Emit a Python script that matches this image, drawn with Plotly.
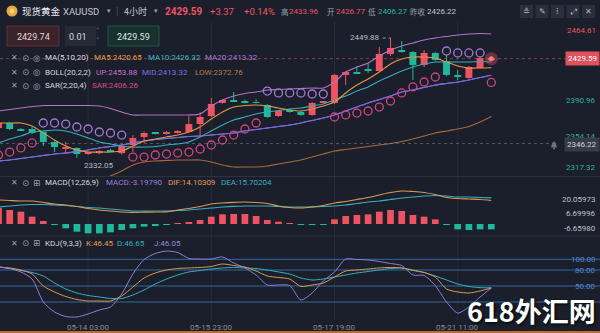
import plotly.graph_objects as go

W, H = 600, 333
BG = "#1b1f2b"

# ---------------- data (4h candles, index 0..44) ----------------
opens = [2361.5, 2366.4, 2360.5, 2360.5, 2357.6, 2347.8, 2341.2, 2341.9, 2336.0, 2336.8,
         2339.2, 2336.8, 2344.8, 2352.7, 2356.8, 2355.6, 2356.6, 2357.6, 2365.4, 2373.3,
         2386.1, 2389.0, 2387.5, 2387.0, 2384.1, 2373.3, 2379.2, 2377.2, 2374.3, 2386.1,
         2386.1, 2413.6, 2416.5, 2418.8, 2417.5, 2434.2, 2438.1, 2436.1, 2423.4, 2435.2,
         2427.3, 2413.6, 2410.6, 2420.4, 2429.0]
highs = [2368.0, 2367.5, 2361.5, 2363.5, 2358.5, 2348.5, 2347.8, 2342.5, 2338.0, 2339.8,
         2341.0, 2344.5, 2354.6, 2358.0, 2357.6, 2358.5, 2359.6, 2373.3, 2377.2, 2391.0,
         2390.0, 2396.9, 2389.5, 2390.0, 2385.0, 2379.0, 2380.5, 2378.5, 2387.0, 2388.0,
         2414.5, 2417.5, 2422.4, 2425.3, 2441.0, 2449.88, 2446.9, 2437.0, 2438.1, 2436.0,
         2433.2, 2418.5, 2422.4, 2431.0, 2430.5]
lows = [2360.5, 2359.5, 2358.5, 2355.6, 2343.8, 2337.9, 2336.8, 2332.05, 2335.0, 2335.8,
        2337.5, 2335.5, 2337.9, 2346.8, 2355.0, 2355.0, 2356.0, 2356.6, 2352.7, 2372.0,
        2385.5, 2387.5, 2385.5, 2385.6, 2371.5, 2372.5, 2376.5, 2373.5, 2373.5, 2385.8,
        2385.2, 2403.7, 2414.8, 2415.5, 2416.5, 2432.2, 2435.5, 2408.6, 2421.4, 2427.0,
        2412.5, 2408.6, 2409.8, 2419.5, 2428.5]
closes = [2366.4, 2360.5, 2359.5, 2356.6, 2347.8, 2342.8, 2342.0, 2335.9, 2337.0, 2338.9,
          2338.2, 2343.8, 2351.7, 2356.6, 2356.0, 2357.6, 2357.6, 2365.4, 2372.3, 2385.1,
          2389.0, 2388.0, 2386.6, 2386.1, 2372.3, 2378.2, 2377.2, 2374.3, 2386.1, 2387.2,
          2413.6, 2416.5, 2415.5, 2417.8, 2434.2, 2440.1, 2436.1, 2423.4, 2435.2, 2428.3,
          2413.6, 2411.6, 2421.4, 2430.2, 2429.59]

ma5 = [2366.4, 2366.4, 2366.4, 2363.5, 2356.6, 2349.7, 2343.8, 2339.9, 2337.9, 2337.9,
       2337.9, 2338.9, 2343.8, 2348.7, 2350.7, 2352.7, 2354.6, 2357.6, 2362.5, 2370.3,
       2377.2, 2382.1, 2383.6, 2384.1, 2383.1, 2381.1, 2379.2, 2378.2, 2380.2, 2383.1,
       2387.0, 2395.9, 2403.7, 2409.6, 2416.5, 2424.4, 2429.3, 2431.2, 2431.2, 2430.2,
       2426.3, 2422.4, 2420.4, 2420.4, 2420.65]
ma10 = [2346.8, 2350.7, 2353.6, 2357.6, 2358.6, 2359.6, 2358.6, 2355.6, 2351.7, 2347.8,
        2345.8, 2343.8, 2342.8, 2342.8, 2343.3, 2344.8, 2345.8, 2347.8, 2352.7, 2358.6,
        2364.5, 2369.4, 2372.3, 2375.3, 2377.2, 2378.7, 2380.2, 2381.1, 2383.1, 2385.1,
        2389.0, 2392.9, 2397.8, 2401.8, 2407.7, 2412.6, 2417.5, 2421.4, 2424.4, 2426.3,
        2426.3, 2426.3, 2426.3, 2426.8, 2426.32]
boll_mid = [2329.1, 2330.1, 2331.5, 2333.0, 2334.5, 2336.0, 2336.9, 2338.4, 2339.9, 2341.9,
            2343.3, 2344.8, 2346.8, 2348.7, 2350.2, 2351.2, 2352.2, 2353.2, 2353.6, 2354.6,
            2355.6, 2356.6, 2358.6, 2360.0, 2361.5, 2363.0, 2364.5, 2366.4, 2368.9, 2371.3,
            2374.3, 2378.2, 2382.1, 2386.1, 2389.5, 2392.9, 2396.9, 2398.8, 2401.3, 2403.7,
            2405.2, 2406.7, 2408.6, 2411.1, 2413.32]
ma20 = boll_mid
boll_up = [2378.2, 2379.7, 2381.1, 2382.6, 2383.6, 2383.6, 2383.6, 2383.6, 2383.6, 2383.1,
           2380.7, 2377.2, 2374.3, 2374.3, 2374.3, 2374.3, 2374.3, 2374.3, 2375.3, 2383.1,
           2389.0, 2392.9, 2395.4, 2396.9, 2398.8, 2399.3, 2399.8, 2400.3, 2400.8, 2400.8,
           2406.7, 2416.5, 2421.4, 2425.3, 2432.2, 2438.1, 2442.0, 2445.0, 2447.9, 2449.9,
           2451.4, 2452.8, 2453.8, 2454.3, 2453.88]
boll_low = [None, None, None, None, None, None, None, None, None, 2309.5,
            2314.4, 2319.3, 2325.2, 2328.1, 2329.1, 2329.6, 2330.1, 2330.1, 2330.1, 2328.1,
            2325.2, 2323.2, 2323.2, 2323.2, 2324.2, 2326.2, 2328.1, 2330.1, 2333.0, 2335.9,
            2338.9, 2340.4, 2341.9, 2343.3, 2344.8, 2346.3, 2348.2, 2350.7, 2353.6, 2356.6,
            2358.6, 2360.5, 2363.0, 2367.4, 2372.76]
sar = [2335.0, 2337.9, 2341.9, 2346.8, 2366.4, 2366.4, 2365.4, 2362.5, 2360.5, 2357.6,
       2356.6, 2354.6, 2333.0, 2333.0, 2335.0, 2335.9, 2336.9, 2337.9, 2340.9, 2344.8,
       2349.7, 2354.6, 2360.5, 2366.4, 2397.8, 2395.9, 2395.9, 2395.9, 2394.9, 2394.9,
       2372.3, 2374.3, 2376.2, 2378.2, 2382.1, 2388.0, 2395.9, 2401.8, 2406.7, 2411.6,
       2437.1, 2435.2, 2435.2, 2435.2, 2406.26]

macd_hist = [9.6, 8.4, 7.4, 4.4, 1.8, -0.3, -2.6, -4.6, -5.6, -5.6,
             -5.0, -3.6, -2.6, -1.6, -1.0, -0.6, 0.3, 0.8, 2.4, 4.4,
             5.8, 6.0, 6.0, 4.8, 2.4, 1.4, 0.4, -0.3, -0.3, -0.2,
             2.8, 4.8, 5.4, 5.8, 7.4, 8.4, 7.8, 5.4, 4.4, 2.8,
             -0.3, -3.2, -3.6, -3.2, -3.1979]
dif = [14.4, 14.1, 13.8, 13.8, 12.9, 12.0, 11.4, 10.5, 9.3, 8.4,
       7.8, 7.2, 7.0, 7.1, 7.2, 7.3, 8.4, 9.3, 10.5, 12.0,
       12.6, 13.0, 13.2, 12.9, 12.3, 10.8, 9.9, 9.6, 10.2, 11.1,
       12.6, 13.5, 14.7, 15.9, 17.4, 18.9, 19.8, 19.5, 18.9, 17.7,
       15.9, 15.3, 15.0, 14.7, 14.10309]
dea = [10.2, 10.8, 11.4, 11.7, 11.7, 11.4, 11.1, 10.5, 9.9, 9.6,
       9.0, 8.4, 7.8, 7.8, 7.8, 7.8, 8.1, 8.4, 9.0, 9.6,
       10.2, 10.6, 10.8, 10.8, 10.8, 10.5, 10.2, 10.2, 10.3, 10.5,
       10.8, 11.4, 12.3, 13.2, 13.8, 14.7, 15.6, 16.2, 16.8, 17.1,
       16.8, 16.2, 16.2, 15.9, 15.70204]

k_vals = [85.6, 83.8, 80.0, 72.5, 50.0, 38.8, 30.3, 24.7, 21.9, 21.9,
          21.9, 31.3, 48.1, 65.0, 74.4, 80.0, 82.8, 83.8, 84.7, 86.6,
          91.3, 88.4, 85.6, 78.1, 68.8, 65.9, 63.1, 49.1, 51.9, 55.6,
          66.9, 78.1, 80.0, 81.9, 83.8, 84.7, 83.8, 79.1, 75.3, 66.9,
          44.4, 38.8, 36.9, 40.6, 46.45]
d_vals = [85.6, 82.8, 79.1, 75.3, 68.8, 55.6, 44.4, 36.9, 32.2, 29.4,
          26.6, 26.6, 33.1, 42.5, 53.8, 63.1, 70.6, 76.3, 79.1, 81.9,
          83.8, 84.7, 83.8, 82.8, 80.0, 76.3, 72.5, 65.0, 61.3, 63.1,
          66.9, 70.6, 74.4, 77.2, 80.0, 82.8, 83.8, 80.0, 75.3, 68.8,
          61.3, 53.8, 49.1, 46.9, 46.65]
j_vals = [85.6, 82.8, 76.3, 63.1, 20.0, 1.3, -7.2, -8.1, -2.5, 5.0,
          10.6, 35.0, 72.5, 99.7, 110.9, 115.6, 112.8, 101.6, 100.6, 100.6,
          104.4, 93.1, 83.8, 70.6, 51.9, 51.9, 50.9, 23.8, 36.9, 59.4,
          76.3, 100.6, 99.7, 98.8, 95.9, 92.2, 88.4, 70.6, 69.7, 50.8,
          20.0, -0.6, 10.6, 29.4, 46.05]

x_tick_pos = [8, 19, 30, 41]
x_tick_text = ["05-14 03:00", "05-15 23:00", "05-17 19:00", "05-21 11:00"]
price_tick_vals = [2464.61, 2390.96, 2354.14, 2317.32]
macd_tick_vals = [20.05973, 6.69996, -6.65980]
kdj_levels = [100, 80, 50, 20]
kdj_tick_text = ["100.00", "80.00", "50.00", "20.00"]

last_price = 2429.59
alert_price = 2346.22

# ---------------- styling ----------------
UPC = "#ef5361"
DNC = "#1fb89a"
FONT = "Roboto, Noto Sans CJK SC, sans-serif"
CJK = "Noto Sans CJK SC, Roboto, sans-serif"

n = len(closes)
idx = list(range(n))


def px(x):
    return x / W


def py(y):
    return 1 - y / H


fig = go.Figure()


def line(y, color, axis="y", width=1.1):
    fig.add_trace(go.Scatter(x=idx, y=y, mode="lines", yaxis=axis, hoverinfo="skip",
                             line=dict(color=color, width=width, shape="spline", smoothing=0.7),
                             showlegend=False))


line(boll_low, "#a8683a")
line(boll_up, "#b672c8")
line(ma20, "#a070d0")
line(boll_mid, "#6c6ce0")
line(ma10, "#34aebf")
line(ma5, "#e09a48")

# ---- candles: wicks + bodies
up_flags = [c >= o for o, c in zip(opens, closes)]
for flag, col in [(True, UPC), (False, DNC)]:
    wx, wy = [], []
    for i in idx:
        if up_flags[i] == flag:
            wx += [i, i, None]
            wy += [lows[i], highs[i], None]
    fig.add_trace(go.Scatter(x=wx, y=wy, mode="lines", yaxis="y", hoverinfo="skip",
                             line=dict(color=col, width=1), showlegend=False))
fig.add_trace(go.Bar(x=idx, y=[abs(c - o) for o, c in zip(opens, closes)],
                     base=[min(o, c) for o, c in zip(opens, closes)], width=0.62, yaxis="y",
                     marker=dict(color=[UPC if f else DNC for f in up_flags], line=dict(width=0)),
                     showlegend=False, hoverinfo="skip"))

# ---- SAR
sar_cols = ["#a27ad8" if s > c else "#d2457f" for s, c in zip(sar, closes)]
fig.add_trace(go.Scatter(x=idx, y=sar, mode="markers", yaxis="y", hoverinfo="skip",
                         marker=dict(symbol="circle-open", size=8, color=sar_cols,
                                     line=dict(width=1.3, color=sar_cols)),
                         showlegend=False))

# ---- last price glow
fig.add_trace(go.Scatter(x=[idx[-1]], y=[last_price], mode="markers", yaxis="y", hoverinfo="skip",
                         marker=dict(size=13, color="rgba(240,90,100,0.35)"), showlegend=False))
fig.add_trace(go.Scatter(x=[idx[-1]], y=[last_price], mode="markers", yaxis="y", hoverinfo="skip",
                         marker=dict(size=5, color="#ff7a84"), showlegend=False))

# ---- MACD panel
fig.add_trace(go.Bar(x=idx, y=macd_hist, width=0.6, yaxis="y2", hoverinfo="skip",
                     marker=dict(color=[UPC if v >= 0 else DNC for v in macd_hist], line=dict(width=0)),
                     showlegend=False))
line(dea, "#38aebe", axis="y2")
line(dif, "#d99a55", axis="y2")

# ---- KDJ panel
line(d_vals, "#35b0bf", axis="y3", width=1)
line(k_vals, "#d9994f", axis="y3", width=1)
line(j_vals, "#8e7fd6", axis="y3", width=1)

# ---------------- axes ----------------
xr = [(0 + 1.5) / 11.2, (W + 1.5) / 11.2]
main_bot, main_top = 176, 22
macd_bot, macd_top = 235, 177
kdj_bot, kdj_top = 320, 237


def p_at(y):
    return 2487.2 - 0.982 * y


def p_px(v):
    return (2487.2 - v) / 0.982


def m_at(y):
    return (224 - y) * 0.6


def m_px(v):
    return 224 - v / 0.6


def k_at(y):
    return 80 - (y - 270) * 1.875


hidden = dict(visible=False, showgrid=False, zeroline=False, fixedrange=True)
fig.update_layout(
    width=W, height=H, margin=dict(l=0, r=0, t=0, b=0),
    paper_bgcolor=BG, plot_bgcolor=BG, barmode="overlay", showlegend=False,
    xaxis=dict(range=xr, domain=[0, 1], anchor="y3", **hidden),
    yaxis=dict(domain=[py(main_bot), py(main_top)], range=[p_at(main_bot), p_at(main_top)], **hidden),
    yaxis2=dict(domain=[py(macd_bot), py(macd_top)], range=[m_at(macd_bot), m_at(macd_top)], **hidden),
    yaxis3=dict(domain=[py(kdj_bot), py(kdj_top)], range=[k_at(kdj_bot), k_at(kdj_top)], **hidden),
)

shapes = []
anns = []

for xp in x_tick_pos:
    shapes.append(dict(type="line", xref="x", yref="paper", x0=xp, x1=xp, y0=py(320), y1=py(22),
                       line=dict(color="#262b37", width=1), layer="below"))
for ys in [176.5, 236]:
    shapes.append(dict(type="line", xref="paper", yref="paper", x0=0, x1=1, y0=py(ys), y1=py(ys),
                       line=dict(color="#2c313d", width=1)))
for lv in kdj_levels:
    shapes.append(dict(type="line", xref="paper", yref="y3", x0=0, x1=1, y0=lv, y1=lv,
                       line=dict(color="#34679f", width=1), layer="below"))
shapes.append(dict(type="line", xref="paper", yref="y", x0=0, x1=px(568), y0=last_price, y1=last_price,
                   line=dict(color="rgba(225,85,95,0.55)", width=1, dash="dot")))
shapes.append(dict(type="line", xref="paper", yref="y", x0=0, x1=px(549), y0=alert_price, y1=alert_price,
                   line=dict(color="rgba(150,155,165,0.45)", width=1, dash="dot")))
shapes.append(dict(type="line", xref="x", yref="y", x0=34.3, x1=35, y0=highs[35], y1=highs[35],
                   line=dict(color="#9aa0aa", width=1, dash="dot")))
shapes.append(dict(type="rect", xref="paper", yref="paper", x0=0, x1=1, y0=0, y1=py(331),
                   fillcolor="#b86e30", line=dict(width=0)))

# small bell icon next to the alert price box
by = p_px(alert_price) + 1
bell = (f"M {px(551)} {py(by + 3)} L {px(552)} {py(by - 1)} Q {px(554)} {py(by - 5)} {px(556)} {py(by - 1)} "
        f"L {px(557)} {py(by + 3)} Z")
shapes.append(dict(type="path", xref="paper", yref="paper", path=bell,
                   fillcolor="#6c717c", line=dict(width=0)))
shapes.append(dict(type="circle", xref="paper", yref="paper", x0=px(553), x1=px(555), y0=py(by + 5), y1=py(by + 3),
                   fillcolor="#6c717c", line=dict(width=0)))


def txt(x, y, s, color, size=8, anchor="left", font=FONT, **kw):
    anns.append(dict(x=px(x), y=py(y), xref="paper", yref="paper", text=s, showarrow=False,
                     xanchor=anchor, yanchor="middle", font=dict(color=color, size=size, family=font), **kw))


# ---- header
shapes.append(dict(type="circle", xref="paper", yref="paper", x0=px(6.5), x1=px(17.5), y0=py(16.5), y1=py(5.5),
                   fillcolor="#e6a93c", line=dict(width=0)))
shapes.append(dict(type="circle", xref="paper", yref="paper", x0=px(9.5), x1=px(14.5), y0=py(13.5), y1=py(8.5),
                   fillcolor="#f6d27a", line=dict(width=0)))
txt(20, 11, "现货黄金", "#eceef2", 9.5, font=CJK)
txt(61, 11, "XAUUSD", "#c2c6ce", 9.5)
txt(105, 11, "▾", "#9ca1ab", 7, font="DejaVu Sans")
txt(114, 11, "|", "#4a4f5b", 10)
txt(122, 11, "4小时", "#c2c6ce", 9, font=CJK)
txt(152, 11, "▾", "#9ca1ab", 7, font="DejaVu Sans")
txt(163, 11, "<b>2429.59</b>", UPC, 10)
txt(208, 11, "+3.37", UPC, 9.5)
txt(242, 11, "+0.14%", UPC, 9.5)
txt(279, 11, "高", "#9ca1ab", 7.5, font=CJK)
txt(287, 11, "2433.96", UPC, 8)
txt(325, 11, "开", "#9ca1ab", 7.5, font=CJK)
txt(334, 11, "2426.77", UPC, 8)
txt(366, 11, "低", "#9ca1ab", 7.5, font=CJK)
txt(376, 11, "2406.27", DNC, 8)
txt(408, 11, "昨收", "#9ca1ab", 7.5, font=CJK)
txt(425, 11, "2426.22", "#c2c6ce", 8)
icons = ["≙", "✎", "⁞", "⤢", "✕"]
for k, ic in enumerate(icons):
    x0 = 520 + k * 15.5
    shapes.append(dict(type="rect", xref="paper", yref="paper", x0=px(x0), x1=px(x0 + 13), y0=py(18), y1=py(5),
                       fillcolor="#2a2f3b", line=dict(width=0)))
    txt(x0 + 6.5, 11.5, ic, "#b4b8c0", 8, anchor="center", font="DejaVu Sans")

# ---- price boxes
shapes.append(dict(type="rect", xref="paper", yref="paper", x0=px(7), x1=px(59), y0=py(46), y1=py(26),
                   fillcolor="#3a232b", line=dict(color="#5e2f3b", width=1)))
txt(33, 36.5, "2429.74", "#e6d6da", 9, anchor="center")
shapes.append(dict(type="rect", xref="paper", yref="paper", x0=px(65), x1=px(96), y0=py(46), y1=py(26),
                   fillcolor="#262a35", line=dict(width=0)))
txt(78, 36.5, "0.01", "#d8dbe0", 9, anchor="center")
txt(98, 31, "˄", "#8c919b", 7, anchor="center", font="DejaVu Sans")
txt(98, 41, "˅", "#8c919b", 7, anchor="center", font="DejaVu Sans")
shapes.append(dict(type="rect", xref="paper", yref="paper", x0=px(108), x1=px(159), y0=py(46), y1=py(26),
                   fillcolor="#17312f", line=dict(color="#245249", width=1)))
txt(133.5, 36.5, "2429.59", "#dfe8e6", 9, anchor="center")

# ---- legend rows
ICON = "#9ca1ab"


def icon_row(y, third="◎"):
    txt(9, y, "✕", ICON, 8, font="DejaVu Sans")
    txt(20, y, "⊙", ICON, 8.5, font="DejaVu Sans")
    txt(31, y, third, ICON, 8.5, font="DejaVu Sans")


icon_row(58)
txt(43, 58, "MA(5,10,20)", "#d6d9df")
txt(92, 58, f"MA5:{ma5[-1]:.2f}", "#e4a048")
txt(146, 58, f"MA10:{ma10[-1]:.2f}", "#3cb6c6")
txt(203, 58, f"MA20:{ma20[-1]:.2f}", "#a97ad8")
icon_row(72)
txt(43, 72, "BOLL(20,2,2)", "#d6d9df")
txt(94, 72, f"UP:{boll_up[-1]:.2f}", "#cc72cc")
txt(140, 72, f"MID:{boll_mid[-1]:.2f}", "#7274e4")
txt(193, 72, f"LOW:{boll_low[-1]:.2f}", "#b77a48")
icon_row(86)
txt(43, 86, "SAR(2,20,4)", "#d6d9df")
txt(90, 86, f"SAR:{sar[-1]:.2f}", "#dc4a88")

icon_row(182.5, "⊞")
txt(43, 182.5, "MACD(12,26,9)", "#d6d9df")
txt(104, 182.5, f"MACD:{macd_hist[-1]:.5f}", "#9c7ee0")
txt(166, 182.5, f"DIF:{dif[-1]:.5f}", "#e0a050")
txt(219, 182.5, f"DEA:{dea[-1]:.5f}", "#3ab0c0")

icon_row(243, "⊞")
txt(43, 243, "KDJ(9,3,3)", "#d6d9df")
txt(84, 243, f"K:{k_vals[-1]:.2f}", "#e0a050")
txt(115, 243, f"D:{d_vals[-1]:.2f}", "#3ab0c0")
txt(152, 243, f"J:{j_vals[-1]:.2f}", "#9a88d8")

# ---- extreme labels
anns.append(dict(x=34.3, y=highs[35], xref="x", yref="y", text=f"{highs[35]:.2f}", showarrow=False,
                 xanchor="right", yanchor="middle", xshift=-1,
                 font=dict(color="#b9bdc6", size=8, family=FONT)))
anns.append(dict(x=7, y=lows[7], xref="x", yref="y", text=f"{lows[7]:.2f}", showarrow=False,
                 xanchor="left", yanchor="top", xshift=5, yshift=-1,
                 font=dict(color="#b9bdc6", size=8, family=FONT)))

# ---- right axis labels (edge labels are clamped inside their panel)
price_shift = [7, 2, 1, -5]
for v, s in zip(price_tick_vals, price_shift):
    txt(598, p_px(v) + s, f"{v:.2f}", UPC if v > last_price else DNC, 8, anchor="right")
txt(600, p_px(last_price), f"{last_price:.2f}", "#ffffff", 8, anchor="right",
    bgcolor="#e0505d", borderpad=2)
txt(600, p_px(alert_price) + 1, f"{alert_price:.2f}", "#d2d5db", 8, anchor="right",
    bgcolor="#363b47", borderpad=2)
macd_shift = [9, 1, -7]
for v, s in zip(macd_tick_vals, macd_shift):
    txt(598, m_px(v) + s, f"{v:.5f}", "#bfc3cb", 8, anchor="right")
for v, t in zip(kdj_levels, kdj_tick_text):
    anns.append(dict(x=px(598), y=v, xref="paper", yref="y3", text=t, showarrow=False,
                     xanchor="right", yanchor="middle",
                     font=dict(color="#4d8ad4", size=8, family=FONT)))

# ---- time labels
for xp, t in zip(x_tick_pos, x_tick_text):
    anns.append(dict(x=xp, y=py(327), xref="x", yref="paper", text=t, showarrow=False,
                     xanchor="center", yanchor="middle",
                     font=dict(color="#878d98", size=8, family=FONT)))

# ---- watermark
anns.append(dict(x=px(531), y=py(310), xref="paper", yref="paper", text="<b>618外汇网</b>", showarrow=False,
                 xanchor="center", yanchor="middle",
                 font=dict(color="#ffffff", size=27, family=CJK, shadow="1px 1px 3px #000000")))

fig.update_layout(shapes=shapes, annotations=anns)
fig.write_html("out.html")
